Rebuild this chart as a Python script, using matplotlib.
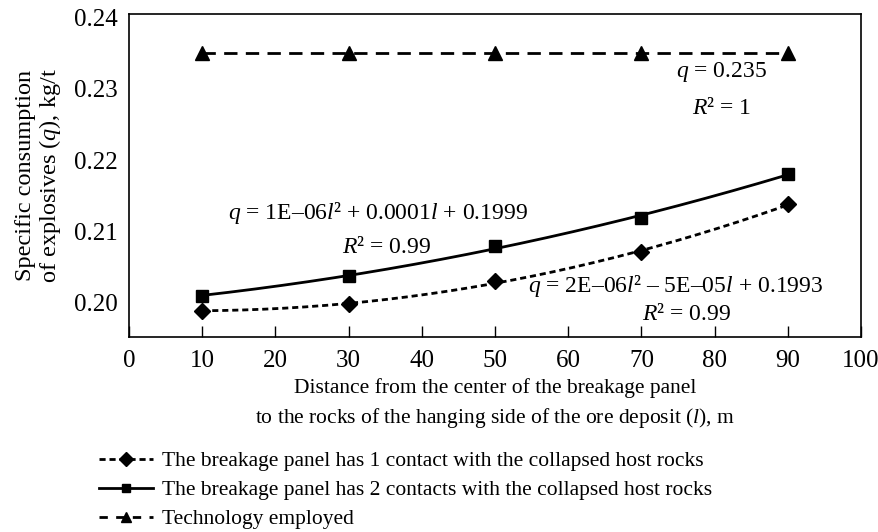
import numpy as np
import matplotlib
matplotlib.use("Agg")
import matplotlib.pyplot as plt

plt.rcParams['font.family'] = ['Liberation Serif', 'DejaVu Serif']
plt.rcParams['mathtext.fontset'] = 'custom'
plt.rcParams['mathtext.rm'] = 'Liberation Serif'
plt.rcParams['mathtext.it'] = 'Liberation Serif:italic'

# data
distance = [10, 30, 50, 70, 90]
one_contact = [0.1989, 0.1998, 0.2030, 0.2071, 0.2138]
two_contacts = [0.2010, 0.2038, 0.2079, 0.2119, 0.2181]
technology = [0.235, 0.235, 0.235, 0.235, 0.235]

labels = [
    "The breakage panel has 1 contact with the collapsed host rocks",
    "The breakage panel has 2 contacts with the collapsed host rocks",
    "Technology employed",
]

fig = plt.figure(figsize=(8.79, 5.32), dpi=100)
ax = fig.add_axes([0.1468, 0.3665, 0.8327, 0.6072])

xs = np.linspace(distance[0], distance[-1], 200)

# trendlines (2nd order) for the two contact cases
c1 = np.polyfit(distance, one_contact, 2)
c2 = np.polyfit(distance, two_contacts, 2)

dot = (2.2, 1.4)
dash = (4.8, 3.0)

ax.plot(xs, np.polyval(c1, xs), color='black', lw=2, dashes=dot)
ax.plot(xs, np.polyval(c2, xs), color='black', lw=2)
ax.plot(distance, technology, color='black', lw=2, dashes=dash)

ax.plot(distance, one_contact, 'D', color='black', ms=8)
ax.plot(distance, two_contacts, 's', color='black', ms=8)
ax.plot(distance, technology, '^', color='black', ms=10)

# legend proxies
h1, = ax.plot([], [], color='black', lw=2, dashes=dot, marker='D', ms=7)
h2, = ax.plot([], [], color='black', lw=2, marker='s', ms=6)
h3, = ax.plot([], [], color='black', lw=2, dashes=(3, 3), marker='^', ms=7)

ax.set_xlim(0, 100)
ax.set_ylim(0.1952, 0.2405)
ax.set_xticks(range(0, 101, 10))
ax.set_yticks([0.20, 0.21, 0.22, 0.23, 0.24])
ax.set_yticklabels(['0.20', '0.21', '0.22', '0.23', '0.24'])
ax.tick_params(axis='x', direction='in', length=8, width=1, labelsize=18, pad=9)
ax.tick_params(axis='y', length=0, labelsize=18, pad=8)
for s in ax.spines.values():
    s.set_linewidth(1.2)

ax.set_xlabel("Distance from the center of the breakage panel\n"
              "to the rocks of the hanging side of the ore deposit ($l$), m",
              fontsize=15.5, linespacing=1.45, labelpad=5)
ax.set_ylabel("Specific consumption\nof explosives ($q$), kg/t",
              fontsize=17.5, linespacing=1.05, labelpad=8)

ts = 17
ax.text(13.5, 0.2126, "$q$ = 1E\u201306$l$\u00b2 + 0.0001$l$ + 0.1999",
        fontsize=ts, va='center', ha='left')
ax.text(35.2, 0.2077, "$R$\u00b2 = 0.99", fontsize=ts, va='center', ha='center')
ax.text(80.9, 0.2323, "$q$ = 0.235", fontsize=ts, va='center', ha='center')
ax.text(80.9, 0.2273, "$R$\u00b2 = 1", fontsize=ts, va='center', ha='center')
ax.text(54.5, 0.2024, "$q$ = 2E\u201306$l$\u00b2 \u2013 5E\u201305$l$ + 0.1993",
        fontsize=ts, va='center', ha='left')
ax.text(76.2, 0.1983, "$R$\u00b2 = 0.99", fontsize=ts, va='center', ha='center')

fig.legend([h1, h2, h3], labels, loc='upper left',
           bbox_to_anchor=(0.113, 0.152), frameon=False, fontsize=15.5,
           handlelength=2.5, handletextpad=0.4, labelspacing=0.42,
           borderaxespad=0, borderpad=0)

fig.savefig("out.png", dpi=100)
